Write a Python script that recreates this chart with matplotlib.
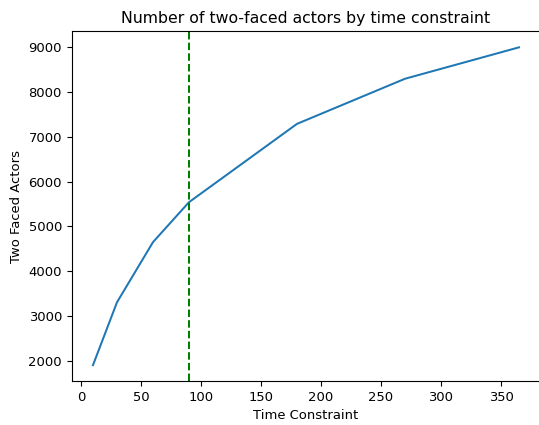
import matplotlib
matplotlib.use('Agg')
from matplotlib import pyplot as plt

time_constraint = [10, 30, 60, 90, 180, 270, 365]
two_faced = [1910, 3310, 4650, 5540, 7285, 8290, 8990]
cutoff = 90

plt.rcParams['font.size'] = 9.45
plt.rcParams['axes.titlesize'] = 11.3

fig, ax = plt.subplots(figsize=(5.39, 4.25), dpi=100)
ax.plot(time_constraint, two_faced, linewidth=1.45)
ax.axvline(cutoff, color='green', linestyle='--', linewidth=1.45)
ax.set_title("Number of two-faced actors by time constraint")
ax.set(xlabel='Time Constraint', ylabel='Two Faced Actors')
plt.subplots_adjust(left=0.133, right=1.0024, top=0.926, bottom=0.1035)
plt.savefig('out.png')
